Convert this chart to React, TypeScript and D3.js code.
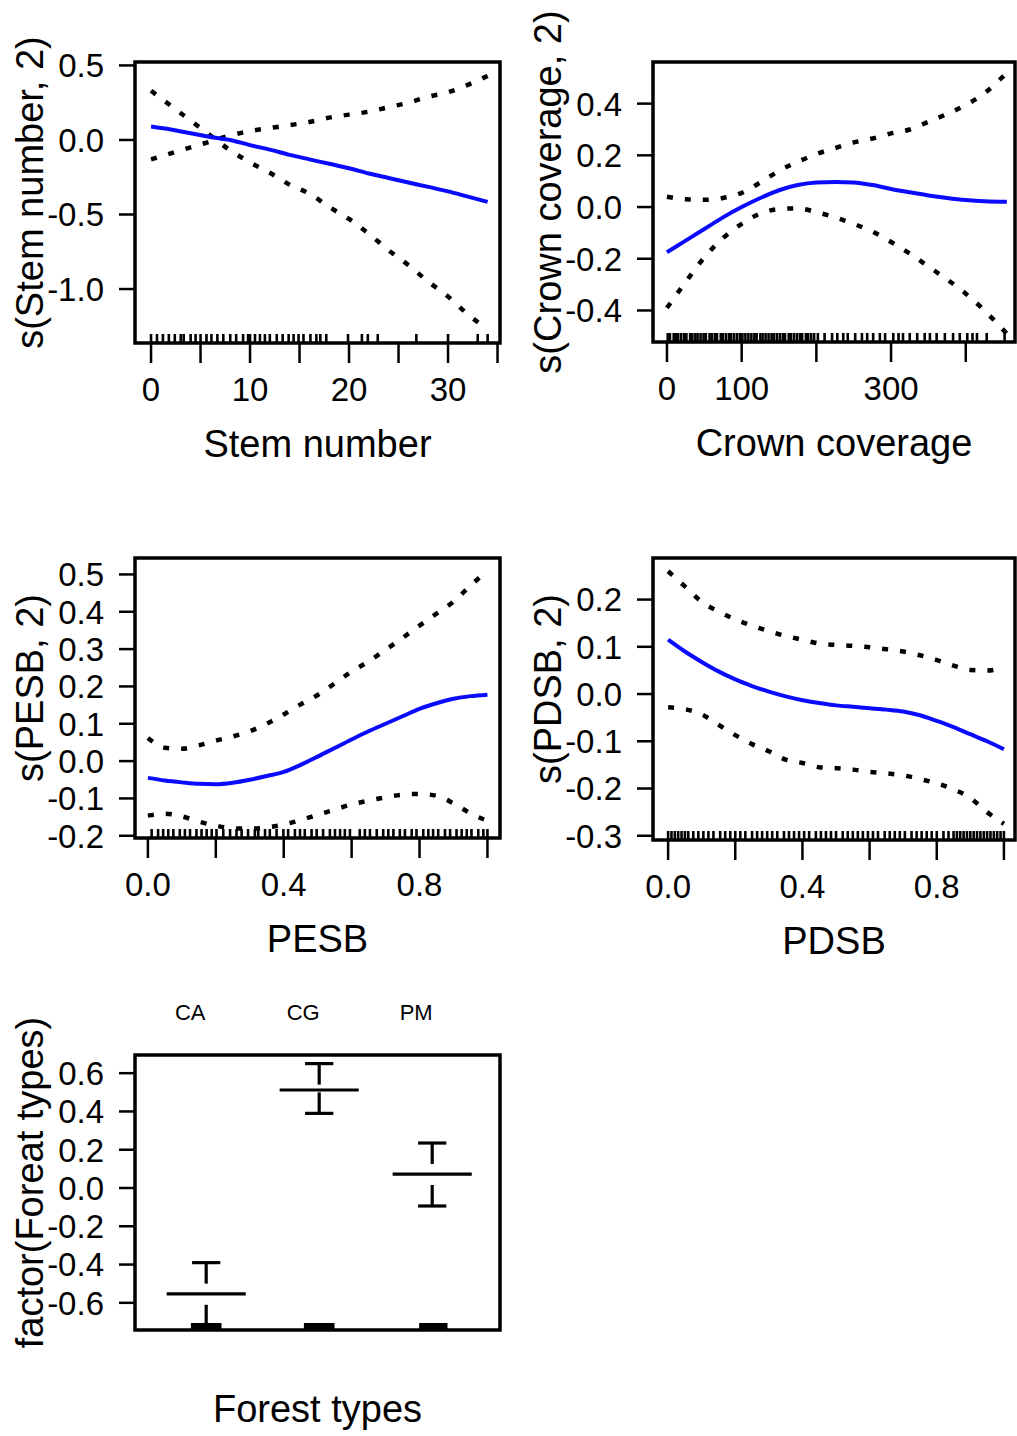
import React from "react";
import * as d3 from "d3";

// ---------- Stem number ----------
const stemX = [0, 2, 4, 6, 8, 10, 12, 14, 16, 18, 20, 22, 24, 26, 28, 30, 32, 34];
const stemFit = [0.09, 0.07, 0.045, 0.02, 0.0, -0.035, -0.065, -0.1, -0.13, -0.16, -0.19, -0.225, -0.255, -0.285, -0.315, -0.345, -0.38, -0.415];
const stemSeA = [0.33, 0.23, 0.13, 0.03, -0.07, -0.15, -0.22, -0.3, -0.36, -0.45, -0.53, -0.63, -0.74, -0.84, -0.95, -1.05, -1.17, -1.27];
const stemSeB = [-0.13, -0.09, -0.05, -0.01, 0.03, 0.06, 0.08, 0.1, 0.12, 0.15, 0.17, 0.19, 0.22, 0.25, 0.29, 0.32, 0.37, 0.43];
const stemRug = [0, 0.6, 1.2, 1.8, 2.4, 3, 3.3, 4, 4.5, 5, 5.6, 6.1, 6.7, 7.3, 8, 8.6, 9.3, 9.8, 10, 10.5, 11, 11.5, 12, 12.7, 13.3, 13.9, 14.4, 14.9, 15.4, 16.1, 16.7, 17.1, 17.7, 19.9, 21.3, 21.9, 22.9, 26.8, 30, 33, 34];
const stemXTicks = [0, 5, 10, 15, 20, 25, 30, 35];
const stemXLabels = ["0", "", "10", "", "20", "", "30", ""];
const stemYTicks = [0.5, 0, -0.5, -1.0];
const stemYLabels = ["0.5", "0.0", "-0.5", "-1.0"];

// ---------- Crown coverage ----------
const crownX = [0, 25, 50, 75, 100, 125, 150, 175, 200, 225, 250, 275, 300, 325, 350, 375, 400, 425, 455];
const crownFit = [-0.175, -0.13, -0.085, -0.04, 0.0, 0.035, 0.065, 0.085, 0.095, 0.097, 0.095, 0.085, 0.07, 0.057, 0.045, 0.035, 0.027, 0.022, 0.02];
const crownUpper = [0.04, 0.03, 0.028, 0.035, 0.055, 0.095, 0.14, 0.175, 0.205, 0.228, 0.25, 0.265, 0.285, 0.3, 0.33, 0.36, 0.395, 0.44, 0.52];
const crownLower = [-0.39, -0.29, -0.195, -0.12, -0.065, -0.025, -0.008, -0.005, -0.02, -0.04, -0.065, -0.095, -0.135, -0.18, -0.23, -0.28, -0.335, -0.4, -0.49];
const crownRug = [1, 4, 9, 12, 15, 19, 23, 26, 31, 34, 38, 41, 45, 49, 52, 57, 60, 64, 67, 72, 75, 79, 83, 86, 90, 94, 98, 101, 105, 109, 113, 117, 120, 125, 128, 132, 136, 140, 143, 147, 151, 155, 158, 163, 166, 170, 174, 178, 181, 186, 189, 193, 197, 202, 211, 221, 228, 236, 242, 252, 261, 268, 276, 285, 292, 303, 310, 316, 325, 335, 345, 352, 361, 372, 383, 392, 402, 409, 415, 428, 452];
const crownXTicks = [0, 100, 200, 300, 400];
const crownXLabels = ["0", "100", "", "300", ""];
const crownYTicks = [0.4, 0.2, 0.0, -0.2, -0.4];
const crownYLabels = ["0.4", "0.2", "0.0", "-0.2", "-0.4"];

// ---------- PESB ----------
const pesbX = [0, 0.05, 0.1, 0.15, 0.2, 0.25, 0.3, 0.35, 0.4, 0.45, 0.5, 0.55, 0.6, 0.65, 0.7, 0.75, 0.8, 0.85, 0.9, 0.95, 1.0];
const pesbFit = [-0.045, -0.052, -0.057, -0.061, -0.062, -0.058, -0.05, -0.04, -0.029, -0.01, 0.012, 0.035, 0.058, 0.08, 0.1, 0.12, 0.14, 0.155, 0.167, 0.174, 0.178];
const pesbUpper = [0.062, 0.036, 0.033, 0.042, 0.055, 0.066, 0.08, 0.1, 0.125, 0.152, 0.177, 0.208, 0.24, 0.267, 0.298, 0.33, 0.363, 0.395, 0.427, 0.47, 0.51];
const pesbLower = [-0.146, -0.141, -0.148, -0.162, -0.173, -0.18, -0.181, -0.178, -0.17, -0.158, -0.144, -0.13, -0.116, -0.106, -0.097, -0.09, -0.088, -0.093, -0.113, -0.14, -0.16];
const pesbRug = [0.011, 0.03, 0.045, 0.06, 0.075, 0.094, 0.109, 0.124, 0.143, 0.158, 0.173, 0.188, 0.202, 0.222, 0.242, 0.261, 0.276, 0.295, 0.315, 0.325, 0.345, 0.359, 0.379, 0.399, 0.413, 0.433, 0.448, 0.462, 0.482, 0.497, 0.516, 0.536, 0.551, 0.566, 0.58, 0.595, 0.624, 0.639, 0.654, 0.674, 0.693, 0.708, 0.723, 0.742, 0.757, 0.777, 0.791, 0.811, 0.826, 0.84, 0.855, 0.875, 0.89, 0.909, 0.924, 0.939, 0.953, 0.973, 0.988, 1.0];
const unitXTicks = [0, 0.2, 0.4, 0.6, 0.8, 1.0];
const unitXLabels = ["0.0", "", "0.4", "", "0.8", ""];
const pesbYTicks = [0.5, 0.4, 0.3, 0.2, 0.1, 0.0, -0.1, -0.2];
const pesbYLabels = ["0.5", "0.4", "0.3", "0.2", "0.1", "0.0", "-0.1", "-0.2"];

// ---------- PDSB ----------
const pdsbX = [0, 0.05, 0.1, 0.15, 0.2, 0.25, 0.3, 0.35, 0.4, 0.45, 0.5, 0.55, 0.6, 0.65, 0.7, 0.75, 0.8, 0.85, 0.9, 0.95, 1.0];
const pdsbFit = [0.115, 0.09, 0.068, 0.048, 0.031, 0.017, 0.005, -0.005, -0.013, -0.019, -0.024, -0.027, -0.03, -0.033, -0.037, -0.045, -0.057, -0.07, -0.085, -0.1, -0.117];
const pdsbUpper = [0.26, 0.228, 0.195, 0.175, 0.158, 0.145, 0.133, 0.123, 0.115, 0.107, 0.104, 0.102, 0.099, 0.095, 0.09, 0.082, 0.072, 0.06, 0.051, 0.05, 0.056];
const pdsbLower = [-0.028, -0.032, -0.043, -0.065, -0.087, -0.106, -0.121, -0.139, -0.146, -0.155, -0.157, -0.16, -0.165, -0.168, -0.172, -0.18, -0.189, -0.202, -0.22, -0.25, -0.275];
const pdsbRug = [0.0, 0.01, 0.02, 0.03, 0.04, 0.05, 0.06, 0.075, 0.09, 0.105, 0.12, 0.135, 0.155, 0.17, 0.185, 0.2, 0.215, 0.23, 0.25, 0.265, 0.28, 0.295, 0.31, 0.325, 0.345, 0.36, 0.375, 0.39, 0.405, 0.42, 0.44, 0.455, 0.47, 0.485, 0.5, 0.52, 0.535, 0.55, 0.565, 0.58, 0.595, 0.61, 0.625, 0.645, 0.66, 0.675, 0.69, 0.705, 0.725, 0.74, 0.755, 0.77, 0.785, 0.8, 0.82, 0.835, 0.85, 0.86, 0.87, 0.88, 0.89, 0.9, 0.91, 0.92, 0.93, 0.94, 0.95, 0.96, 0.97, 0.98, 0.99, 1.0];
const pdsbYTicks = [0.2, 0.1, 0.0, -0.1, -0.2, -0.3];
const pdsbYLabels = ["0.2", "0.1", "0.0", "-0.1", "-0.2", "-0.3"];

// ---------- Forest types (factor) ----------
const forestTypes = ["CA", "CG", "PM"];
const forestEffect = [-0.553, 0.512, 0.073];
const forestUpper = [-0.39, 0.65, 0.235];
const forestLower = [-0.72, 0.39, -0.094];
const forestRug = [0.88, 0.9, 0.92, 0.94, 0.96, 0.98, 1.0, 1.02, 1.04, 1.06, 1.08, 1.1, 1.12, 1.88, 1.9, 1.92, 1.94, 1.96, 1.98, 2.0, 2.02, 2.04, 2.06, 2.08, 2.1, 2.12, 2.9, 2.92, 2.94, 2.96, 2.98, 3.0, 3.02, 3.04, 3.06, 3.08, 3.1, 3.12];
const forestYTicks = [0.6, 0.4, 0.2, 0.0, -0.2, -0.4, -0.6];
const forestYLabels = ["0.6", "0.4", "0.2", "0.0", "-0.2", "-0.4", "-0.6"];

const FONT = "'Liberation Sans', Arial, Helvetica, sans-serif";
const BLUE = "#0a0aff";

type SmoothCfg = {
  id: string;
  left: number; right: number; top: number; bottom: number;
  xDomain: [number, number]; yDomain: [number, number];
  xs: number[]; fit: number[]; se1: number[]; se2: number[]; rug: number[];
  xTicks: number[]; xLabels: string[]; yTicks: number[]; yLabels: string[];
  xTitle: string; yTitle: string;
};

const smoothPanels: SmoothCfg[] = [
  {
    id: "stem", left: 135, right: 500, top: 62, bottom: 343,
    xDomain: [-1.62, 35.25], yDomain: [-1.362, 0.523],
    xs: stemX, fit: stemFit, se1: stemSeA, se2: stemSeB, rug: stemRug,
    xTicks: stemXTicks, xLabels: stemXLabels, yTicks: stemYTicks, yLabels: stemYLabels,
    xTitle: "Stem number", yTitle: "s(Stem number, 2)",
  },
  {
    id: "crown", left: 653, right: 1015, top: 62, bottom: 342,
    xDomain: [-18.7, 465.9], yDomain: [-0.522, 0.561],
    xs: crownX, fit: crownFit, se1: crownUpper, se2: crownLower, rug: crownRug,
    xTicks: crownXTicks, xLabels: crownXLabels, yTicks: crownYTicks, yLabels: crownYLabels,
    xTitle: "Crown coverage", yTitle: "s(Crown coverage, 2)",
  },
  {
    id: "pesb", left: 135, right: 500, top: 558, bottom: 838,
    xDomain: [-0.038, 1.037], yDomain: [-0.206, 0.544],
    xs: pesbX, fit: pesbFit, se1: pesbUpper, se2: pesbLower, rug: pesbRug,
    xTicks: unitXTicks, xLabels: unitXLabels, yTicks: pesbYTicks, yLabels: pesbYLabels,
    xTitle: "PESB", yTitle: "s(PESB, 2)",
  },
  {
    id: "pdsb", left: 653, right: 1015, top: 558, bottom: 840,
    xDomain: [-0.045, 1.033], yDomain: [-0.309, 0.288],
    xs: pdsbX, fit: pdsbFit, se1: pdsbUpper, se2: pdsbLower, rug: pdsbRug,
    xTicks: unitXTicks, xLabels: unitXLabels, yTicks: pdsbYTicks, yLabels: pdsbYLabels,
    xTitle: "PDSB", yTitle: "s(PDSB, 2)",
  },
];

function YAxis({ y, left, ticks, labels }: any) {
  return (
    <g>
      {ticks.map((t: number, i: number) => (
        <g key={i}>
          <line x1={left - 16} x2={left} y1={y(t)} y2={y(t)} stroke="#000" strokeWidth={2.5} />
          <text x={left - 31} y={y(t)} dy="0.36em" textAnchor="end" fontSize={33} fontFamily={FONT} fill="#000">
            {labels[i]}
          </text>
        </g>
      ))}
    </g>
  );
}

function YTitle({ left, top, bottom, text }: any) {
  const cy = (top + bottom) / 2 - 10;
  return (
    <text transform={`translate(${left - 92},${cy}) rotate(-90)`} textAnchor="middle" fontSize={38} fontFamily={FONT} fill="#000">
      {text}
    </text>
  );
}

function SmoothPanel({ cfg }: { cfg: SmoothCfg }) {
  const x = d3.scaleLinear().domain(cfg.xDomain).range([cfg.left, cfg.right]);
  const y = d3.scaleLinear().domain(cfg.yDomain).range([cfg.bottom, cfg.top]);
  const line = d3
    .line<number>()
    .x((_, i) => x(cfg.xs[i]))
    .y((d) => y(d))
    .curve(d3.curveMonotoneX);
  const clipId = "clip-" + cfg.id;
  return (
    <g>
      <clipPath id={clipId}>
        <rect x={cfg.left} y={cfg.top} width={cfg.right - cfg.left} height={cfg.bottom - cfg.top} />
      </clipPath>
      <g clipPath={`url(#${clipId})`}>
        {cfg.rug.map((r, i) => (
          <line key={i} x1={x(r)} x2={x(r)} y1={cfg.bottom} y2={cfg.bottom - 9} stroke="#000" strokeWidth={2.6} />
        ))}
        <path d={line(cfg.se1) || ""} fill="none" stroke="#000" strokeWidth={4.5} strokeDasharray="6 12" />
        <path d={line(cfg.se2) || ""} fill="none" stroke="#000" strokeWidth={4.5} strokeDasharray="6 12" />
        <path d={line(cfg.fit) || ""} fill="none" stroke={BLUE} strokeWidth={4} />
      </g>
      <rect x={cfg.left} y={cfg.top} width={cfg.right - cfg.left} height={cfg.bottom - cfg.top} fill="none" stroke="#000" strokeWidth={3.5} />
      <YAxis y={y} left={cfg.left} ticks={cfg.yTicks} labels={cfg.yLabels} />
      {cfg.xTicks.map((t, i) => (
        <g key={i}>
          <line x1={x(t)} x2={x(t)} y1={cfg.bottom} y2={cfg.bottom + 20} stroke="#000" strokeWidth={2.5} />
          <text x={x(t)} y={cfg.bottom + 58} textAnchor="middle" fontSize={33} fontFamily={FONT} fill="#000">
            {cfg.xLabels[i]}
          </text>
        </g>
      ))}
      <text x={(cfg.left + cfg.right) / 2} y={cfg.bottom + 114} textAnchor="middle" fontSize={38} fontFamily={FONT} fill="#000">
        {cfg.xTitle}
      </text>
      <YTitle left={cfg.left} top={cfg.top} bottom={cfg.bottom} text={cfg.yTitle} />
    </g>
  );
}

function FactorPanel() {
  const left = 135, right = 500, top = 1055, bottom = 1330;
  const x = d3.scaleLinear().domain([0.37, 3.6]).range([left, right]);
  const y = d3.scaleLinear().domain([-0.742, 0.695]).range([bottom, top]);
  const pos = forestTypes.map((_, i) => i + 1);
  return (
    <g>
      <clipPath id="clip-forest">
        <rect x={left} y={top} width={right - left} height={bottom - top} />
      </clipPath>
      <g clipPath="url(#clip-forest)">
        {forestRug.map((r, i) => (
          <line key={i} x1={x(r)} x2={x(r)} y1={bottom} y2={bottom - 7} stroke="#000" strokeWidth={3.5} />
        ))}
        {pos.map((p, i) => (
          <g key={i} stroke="#000" strokeWidth={3.2}>
            <line x1={x(p - 0.35)} x2={x(p + 0.35)} y1={y(forestEffect[i])} y2={y(forestEffect[i])} />
            <line x1={x(p - 0.125)} x2={x(p + 0.125)} y1={y(forestUpper[i])} y2={y(forestUpper[i])} />
            <line x1={x(p - 0.125)} x2={x(p + 0.125)} y1={y(forestLower[i])} y2={y(forestLower[i])} />
            <line x1={x(p)} x2={x(p)} y1={y(forestUpper[i])} y2={y(forestEffect[i])} strokeDasharray="21 200" />
            <line x1={x(p)} x2={x(p)} y1={y(forestLower[i])} y2={y(forestEffect[i])} strokeDasharray="21 200" />
          </g>
        ))}
      </g>
      <rect x={left} y={top} width={right - left} height={bottom - top} fill="none" stroke="#000" strokeWidth={3.5} />
      <YAxis y={y} left={left} ticks={forestYTicks} labels={forestYLabels} />
      {forestTypes.map((c, i) => (
        <text key={c} x={x(pos[i]) - 16} y={1020} textAnchor="middle" fontSize={22} fontFamily={FONT} fill="#000">
          {c}
        </text>
      ))}
      <text x={(left + right) / 2} y={bottom + 92} textAnchor="middle" fontSize={38} fontFamily={FONT} fill="#000">
        Forest types
      </text>
      <YTitle left={left} top={top} bottom={bottom} text="factor(Foreat types)" />
    </g>
  );
}

export default function App() {
  return (
    <svg
      width={1017}
      height={1436}
      style={{ position: "absolute", left: 0, top: 0, background: "#fff" }}
    >
      <rect width={1017} height={1436} fill="#fff" />
      {smoothPanels.map((p) => (
        <SmoothPanel key={p.id} cfg={p} />
      ))}
      <FactorPanel />
    </svg>
  );
}
